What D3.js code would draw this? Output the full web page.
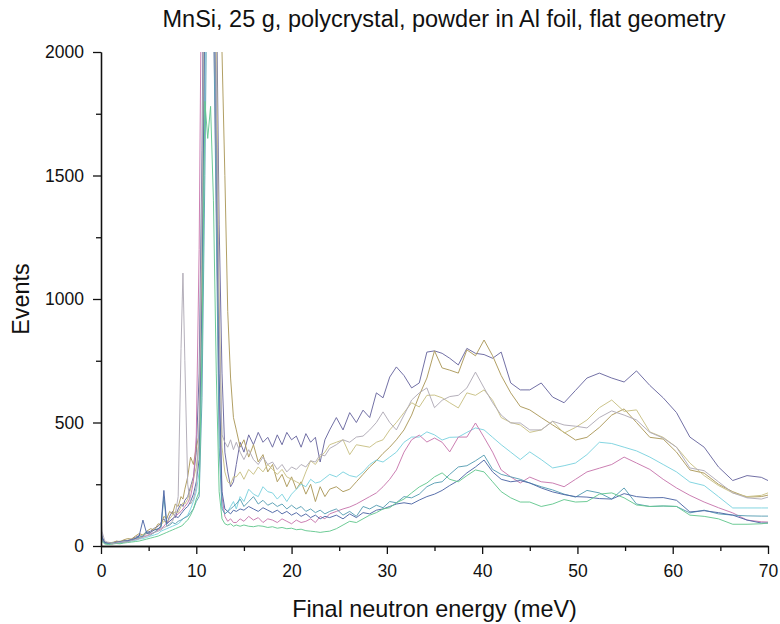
<!DOCTYPE html>
<html>
<head>
<meta charset="utf-8">
<script src="https://cdn.jsdelivr.net/npm/d3@7/dist/d3.min.js"></script>
<style>
  html, body { margin: 0; padding: 0; background: #fff; }
  svg { display: block; }
  text { font-family: "Liberation Sans", Arial, sans-serif; fill: #111; }
</style>
</head>
<body>
<svg id="chart" width="780" height="624"></svg>
<script>
// ---------------- data ----------------
const energy = [
  0, 0.1, 0.4, 0.8, 1.2, 1.6, 2.0, 2.4, 2.8, 3.2, 3.6, 4.0, 4.4, 4.8, 5.2, 5.6, 6.0, 6.3, 6.6, 6.9, 7.2, 7.5, 7.8, 8.1, 8.4, 8.6, 8.8, 9.1, 9.4, 9.7, 10.0,
  10.3, 10.6, 10.9, 11.2, 11.5, 11.8, 12.1, 12.4, 12.7, 13.0, 13.3, 13.6, 13.9,
  14.2, 14.6, 15.0, 15.5, 16.0, 16.5, 17.0, 17.5, 18.0, 18.5, 19.0, 19.5, 20.0, 20.5, 21.0, 21.5, 22.0, 22.5, 23.0, 23.5, 24.0,
  24.7, 25.4, 26.1, 26.8, 27.5, 28.2, 28.9, 29.6, 30.3, 31.0, 31.8, 32.6, 33.4, 34.2, 35.0, 35.8, 36.6, 37.5, 38.4, 39.3, 40.2, 41.1, 42.0, 43.0, 44.0, 45.0,
  46.2, 47.4, 48.6, 49.8, 51.0, 52.3, 53.6, 54.9, 56.2, 57.6, 59.0, 60.4, 61.8, 63.3, 64.8, 66.3, 67.8, 69.3, 70.0
];

const navy = [
  90, 40, 15, 10, 14, 18, 16, 22, 20, 28, 35, 42, 38, 55, 60, 72, 80, 95, 110, 90, 120, 140, 115, 150, 170, 160, 185, 200, 240, 280, 380,
  700, 1600, 3000, 4200, 4000, 3200, 2300, 1300, 700, 380, 300, 240, 260,
  330, 420, 380, 450, 410, 460, 420, 440, 400, 450, 410, 460, 430, 445, 400, 455, 420, 440, 340, 430, 470,
  520, 470, 540, 500, 550, 520, 620, 600, 684, 725, 690, 640, 660, 785, 790, 780, 760, 733, 800, 780, 775, 760, 785, 660, 632, 632,
  660, 603, 580, 630, 680, 700, 680, 664, 709, 650, 600, 540, 441, 400, 320, 265, 285, 278, 265
];
const olive = [
  60, 30, 12, 15, 12, 20, 18, 25, 30, 28, 40, 50, 45, 60, 70, 65, 90, 85, 120, 110, 140, 130, 170, 160, 200, 190, 230, 280, 360, 330, 400,
  450, 1100, 2400, 3800, 4200, 4000, 3500, 2600, 2000, 1500, 950, 680, 520,
  470, 400, 430, 360, 410, 340, 370, 300, 330, 260, 290, 240, 280, 230, 260, 210, 250, 180, 240, 200, 230,
  240, 220, 230, 260, 290, 320, 345, 375, 400, 430, 470, 530, 610, 680, 790, 721, 712, 700, 794, 770, 834, 770, 690, 620, 565, 551,
  520, 490, 460, 429, 440, 480, 530, 555, 500, 440, 433, 380, 308, 295, 250, 220, 198, 200, 206
];
const gray = [
  170, 60, 20, 14, 10, 12, 15, 18, 16, 22, 25, 30, 35, 40, 45, 55, 60, 65, 75, 80, 90, 100, 130, 200, 800, 1105, 750, 250, 170, 190, 240,
  500, 1400, 2800, 3800, 3600, 2800, 1800, 900, 450, 420, 400, 430, 390,
  420, 380, 350, 390, 350, 330, 360, 330, 340, 310, 330, 300, 320, 310, 330, 320, 345, 340, 370, 365, 395,
  410, 430, 420, 441, 445, 470, 500, 543, 500, 470, 530, 591, 620, 640, 560, 590, 605, 610, 640, 704, 640, 580, 530, 498, 498, 470,
  470, 505, 490, 485, 478, 520, 547, 530, 510, 460, 437, 400, 316, 305, 260, 215, 195, 190, 198
];
const khaki = [
  50, 25, 12, 10, 15, 14, 20, 18, 24, 26, 32, 35, 45, 50, 55, 70, 65, 85, 100, 95, 110, 125, 140, 135, 160, 175, 170, 190, 230, 270, 320,
  420, 1200, 2500, 3600, 3800, 3000, 2100, 1000, 400, 300, 260, 250, 280,
  280, 300, 270, 310, 290, 320, 300, 330, 310, 290, 310, 280, 270, 260, 250, 300, 345, 330, 360, 380, 410,
  420, 430, 370, 410, 405, 400, 420, 430, 470, 500, 540, 580, 563, 610, 611, 600, 580, 559, 620, 610, 632, 590, 520, 500, 490, 460,
  470, 505, 457, 480, 510, 560, 591, 545, 551, 462, 440, 400, 336, 285, 245, 215, 200, 205, 215
];
const cyan = [
  40, 20, 10, 8, 10, 12, 10, 15, 18, 20, 22, 28, 30, 35, 40, 45, 50, 60, 65, 70, 75, 80, 85, 90, 100, 110, 115, 125, 150, 180, 220,
  300, 800, 1900, 3000, 2900, 2400, 1500, 500, 160, 130, 140, 160, 180,
  150, 200, 180, 230, 210, 200, 240, 220, 215, 190, 210, 180, 210, 230, 250, 240, 270, 255, 260, 275, 290,
  280, 300, 285, 279, 300, 330, 348, 340, 360, 380, 420, 441, 441, 462, 450, 429, 440, 441, 460, 478, 470, 440, 410, 380, 350, 381,
  350, 316, 325, 336, 370, 420, 415, 400, 385, 360, 330, 300, 259, 245, 200, 154, 154, 154, 154
];
const magenta = [
  50, 25, 10, 12, 8, 14, 16, 15, 20, 24, 28, 30, 38, 42, 50, 55, 65, 70, 80, 95, 100, 110, 120, 130, 140, 150, 160, 175, 200, 260, 450,
  1200, 2600, 3400, 3500, 3000, 2200, 1400, 600, 200, 120, 100, 110, 95,
  95, 110, 100, 120, 105, 115, 95, 110, 105, 95, 110, 100, 90, 105, 95, 100, 110, 95, 120, 110, 130,
  140, 150, 158, 170, 185, 200, 215, 240, 270, 308, 380, 430, 449, 421, 437, 420, 381, 441, 441, 498, 440, 380, 308, 280, 255, 279,
  260, 255, 240, 270, 300, 315, 330, 360, 336, 310, 270, 235, 205, 178, 155, 134, 105, 98, 97
];
const teal = [
  60, 30, 12, 10, 12, 10, 14, 18, 20, 22, 30, 35, 40, 60, 45, 55, 70, 75, 200, 80, 85, 95, 90, 100, 105, 110, 115, 120, 135, 150, 180,
  200, 600, 1500, 2600, 2800, 2200, 1300, 400, 150, 130, 140, 150, 160,
  170, 190, 160, 180, 200, 170, 185, 165, 175, 160, 170, 150, 165, 150, 160, 140, 150, 135, 145, 130, 140,
  150, 125, 140, 120, 160, 150, 165, 155, 180, 175, 200, 195, 210, 240, 255, 260, 290, 320, 325, 345, 368, 310, 290, 280, 270, 255,
  240, 227, 210, 198, 225, 215, 190, 235, 170, 160, 162, 160, 134, 145, 130, 125, 122, 121, 121
];
const darkBlue = [
  80, 35, 14, 12, 10, 15, 18, 20, 22, 26, 30, 40, 105, 50, 55, 65, 70, 80, 225, 90, 100, 110, 120, 115, 130, 140, 150, 160, 180, 210, 260,
  350, 1000, 2200, 3200, 3300, 2600, 1700, 700, 220, 150, 140, 130, 145,
  140, 150, 145, 160, 150, 140, 155, 145, 135, 145, 130, 140, 125, 135, 120, 130, 115, 125, 110, 120, 115,
  125, 110, 130, 115, 135, 130, 145, 150, 160, 170, 175, 170, 186, 200, 210, 225, 245, 265, 296, 320, 348, 300, 270, 260, 265, 255,
  235, 219, 208, 200, 198, 192, 190, 212, 200, 195, 196, 185, 138, 143, 135, 125, 105, 93, 93
];
const green = [
  40, 18, 8, 6, 8, 10, 9, 12, 14, 16, 18, 20, 24, 28, 32, 36, 40, 45, 50, 55, 60, 65, 70, 75, 80, 85, 95, 105, 125, 150, 190,
  220, 800, 1800, 1650, 1780, 1400, 700, 220, 110, 90, 85, 90, 80,
  85, 80, 85, 80, 78, 82, 80, 75, 78, 72, 75, 70, 72, 66, 68, 62, 60, 58, 55, 58, 60,
  70, 85, 100, 95, 110, 125, 135, 150, 155, 175, 190, 215, 239, 255, 280, 296, 270, 260, 285, 308, 300, 260, 220, 195, 178, 178,
  160, 170, 188, 178, 180, 210, 215, 195, 166, 160, 162, 160, 125, 120, 110, 88, 88, 90, 93
];

const seriesNames = ["navy", "olive", "khaki", "cyan", "magenta", "teal", "darkBlue", "green", "gray"];
const seriesValues = [navy, olive, khaki, cyan, magenta, teal, darkBlue, green, gray];
const seriesColors = ["#6a68a0", "#ad9a5c", "#c9c186", "#7dd3df", "#c878ae", "#5a9fb4", "#5068a6", "#66c890", "#b0abb6"];

const xMajorTicks = [0, 10, 20, 30, 40, 50, 60, 70];
const xMinorTicks = [5, 15, 25, 35, 45, 55, 65];
const yMajorTicks = [0, 500, 1000, 1500, 2000];
const yMinorTicks = [250, 750, 1250, 1750];

const titleText = "MnSi, 25 g, polycrystal, powder in Al foil, flat geometry";
const xTitle = "Final neutron energy (meV)";
const yTitle = "Events";

// ---------------- drawing ----------------
(function () {
  const svg = d3.select("#chart");
  const pLeft = 101, pRight = 768, pTop = 52, pBottom = 546;

  const x = d3.scaleLinear().domain([0, 70]).range([pLeft, pRight]);
  const y = d3.scaleLinear().domain([0, 2000]).range([pBottom, pTop]);

  svg.append("defs").append("clipPath").attr("id", "plotClip")
    .append("rect").attr("x", pLeft).attr("y", pTop).attr("width", pRight - pLeft + 1).attr("height", pBottom - pTop);

  const line = d3.line().x(d => x(d[0])).y(d => y(d[1]));

  const plot = svg.append("g").attr("clip-path", "url(#plotClip)");
  seriesValues.forEach((vals, i) => {
    const pts = energy.map((e, j) => [e, vals[j]]);
    plot.append("path")
      .datum(pts)
      .attr("class", "series " + seriesNames[i])
      .attr("fill", "none")
      .attr("stroke", seriesColors[i])
      .attr("stroke-width", 1)
      .attr("stroke-opacity", 0.95)
      .attr("stroke-linejoin", "round")
      .attr("d", line);
  });

  function styleAxis(g) {
    g.selectAll(".domain").attr("stroke", "#111").attr("stroke-width", 1.3);
    g.selectAll(".tick line").attr("stroke", "#111").attr("stroke-width", 1.3);
    g.selectAll(".tick text").attr("fill", "#111").style("font-size", "17.5px")
      .style("font-family", '"Liberation Sans", Arial, sans-serif');
  }

  svg.append("g").attr("transform", `translate(0,${pBottom})`)
    .call(d3.axisBottom(x).tickValues(xMinorTicks).tickSize(5).tickSizeOuter(0).tickFormat(""))
    .call(styleAxis);
  svg.append("g").attr("transform", `translate(0,${pBottom})`)
    .call(d3.axisBottom(x).tickValues(xMajorTicks).tickSize(8).tickSizeOuter(0).tickPadding(11).tickFormat(d3.format("d")))
    .call(styleAxis);

  svg.append("g").attr("transform", `translate(${pLeft},0)`)
    .call(d3.axisLeft(y).tickValues(yMinorTicks).tickSize(5).tickSizeOuter(0).tickFormat(""))
    .call(styleAxis);
  svg.append("g").attr("transform", `translate(${pLeft},0)`)
    .call(d3.axisLeft(y).tickValues(yMajorTicks).tickSize(8).tickSizeOuter(0).tickPadding(9).tickFormat(d3.format("d")))
    .call(styleAxis);

  svg.append("text")
    .attr("x", 444).attr("y", 27)
    .attr("text-anchor", "middle")
    .style("font-size", "23.5px")
    .text(titleText);

  svg.append("text")
    .attr("x", (pLeft + pRight) / 2).attr("y", 617)
    .attr("text-anchor", "middle")
    .style("font-size", "23.4px")
    .text(xTitle);

  svg.append("text")
    .attr("transform", `translate(29,${(pTop + pBottom) / 2}) rotate(-90)`)
    .attr("text-anchor", "middle")
    .style("font-size", "23.4px")
    .text(yTitle);
})();
</script>
</body>
</html>
